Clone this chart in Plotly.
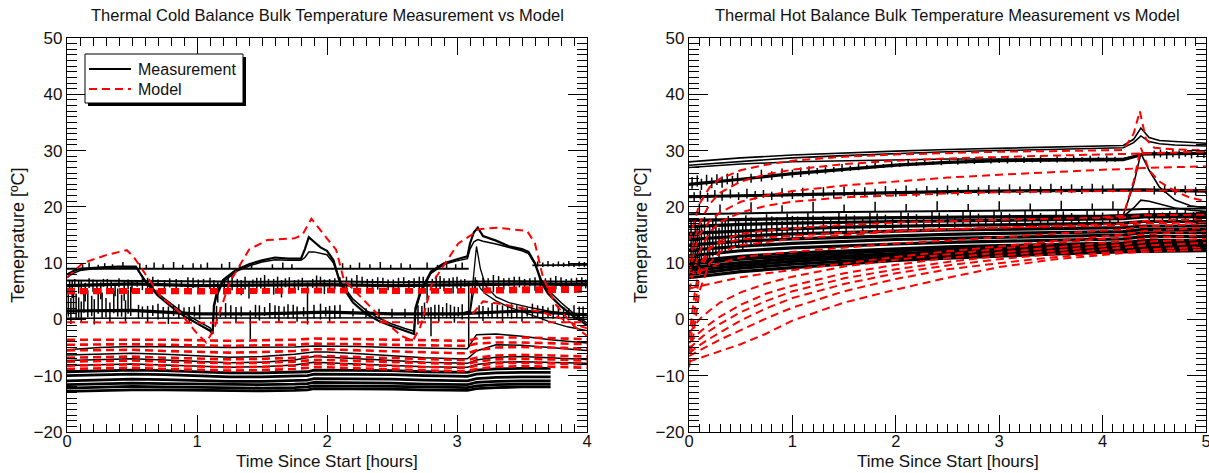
import plotly.graph_objects as go

# ---------------------------------------------------------------- cold case
# heater-driven sensors (two nearly identical channels)
COLD_T_HEAT = [0.0, 0.05, 0.1, 0.2, 0.3, 0.4, 0.5, 0.53, 0.6, 0.7, 0.8, 0.9, 1.0, 1.1, 1.12, 1.13,
               1.15, 1.2, 1.3, 1.4, 1.5, 1.6, 1.7, 1.8, 1.83, 1.86, 1.9, 1.95, 2.0, 2.05, 2.1, 2.2,
               2.3, 2.4, 2.5, 2.6, 2.67, 2.68, 2.72, 2.8, 2.9, 3.0, 3.08, 3.1, 3.13, 3.16, 3.2,
               3.3, 3.4, 3.5, 3.55, 3.6, 3.65, 3.7, 3.8, 3.9, 4.0]
cold_heater_a = [8.0, 8.6, 9.0, 9.2, 9.3, 9.4, 9.5, 9.4, 6.8, 4.2, 2.3, 0.6, -0.7, -2.0, -2.6, 2.5,
                 4.5, 7.0, 8.8, 9.8, 10.5, 11.0, 10.8, 10.8, 12.5, 14.6, 13.8, 12.8, 12.2, 10.5, 6.5,
                 3.0, 1.0, -0.3, -1.2, -2.0, -2.6, 2.0, 5.0, 8.5, 10.0, 10.7, 11.2, 13.5, 15.5,
                 16.3, 14.8, 14.0, 13.0, 12.5, 12.0, 10.0, 6.5, 4.6, 2.3, 0.5, -1.0]
cold_heater_b = [7.5, 8.2, 8.7, 9.0, 9.1, 9.2, 9.3, 9.2, 7.0, 4.6, 2.8, 1.1, -0.2, -1.5, -2.1, 2.0,
                 4.0, 6.6, 8.5, 9.5, 10.2, 10.6, 10.5, 10.5, 11.0, 12.0, 12.0, 11.7, 11.5, 10.0, 6.8,
                 3.6, 1.6, 0.2, -0.8, -1.6, -2.1, 1.5, 4.6, 8.2, 9.8, 10.4, 10.8, 12.5, 13.8, 14.2,
                 13.9, 13.4, 12.8, 12.2, 11.7, 9.8, 7.0, 5.2, 3.0, 1.0, -0.6]

# short transient channels in the third cycle
COLD_T_SPIKE = [3.05, 3.1, 3.12, 3.15, 3.18, 3.22, 3.3, 3.4, 3.55, 3.7, 3.85, 4.0]
cold_spike_a = [1.2, 1.5, 6.0, 13.0, 9.0, 6.0, 4.0, 3.0, 2.2, 1.5, 1.0, 0.8]
cold_spike_b = [0.8, 1.0, 4.0, 7.0, 5.5, 4.5, 3.3, 2.2, 1.0, -0.3, -1.3, -2.0]

# noisy, nearly constant channels
COLD_T_FLAT = [0.0, 0.5, 1.0, 1.5, 2.0, 2.5, 3.0, 3.5, 4.0]
cold_flat9_t = [0.0, 3.09, None, 3.58, 4.0]
cold_flat9_v = [9.0, 9.0, None, 9.6, 9.7]
cold_band6_lo = [6.0, 6.3, 6.0, 6.1, 6.2, 6.0, 6.1, 6.3, 6.2]
cold_band6_hi = [6.9, 6.8, 6.7, 6.7, 6.8, 6.6, 6.7, 6.8, 6.7]
cold_band1 = [1.5, 1.6, 1.0, 1.0, 1.3, 1.0, 1.0, 1.5, 0.8]
cold_zero = [0.2, 0.2, 0.2, 0.3, 0.3, 0.3, 0.3, 0.3, 0.3]

COLD_N9_SPIKES = [(0.12, 9.0, 9.8), (0.17, 9.0, 10.1), (0.24, 9.0, 9.7), (0.29, 9.0, 10.0), (0.35, 9.0, 9.8),
                  (0.43, 9.0, 10.2), (0.56, 9.0, 10.0), (0.61, 9.0, 9.7), (0.67, 9.0, 10.1), (0.74, 9.0, 9.8),
                  (0.82, 9.0, 10.2), (0.89, 9.0, 9.7), (0.97, 9.0, 10.0), (1.03, 9.0, 9.8), (1.08, 9.0, 10.1),
                  (1.19, 9.0, 9.9), (1.25, 9.0, 10.2), (1.33, 9.0, 9.7), (1.42, 9.0, 10.0), (1.58, 9.0, 9.8),
                  (1.66, 9.0, 10.1), (1.73, 9.0, 9.8), (2.12, 9.0, 10.0), (2.18, 9.0, 9.7), (2.25, 9.0, 10.1),
                  (2.33, 9.0, 9.8), (2.41, 9.0, 10.2), (2.49, 9.0, 9.7), (2.57, 9.0, 10.0), (2.64, 9.0, 9.8),
                  (2.77, 9.0, 10.1), (2.85, 9.0, 9.7), (2.92, 9.0, 10.0), (2.99, 9.0, 9.8), (3.04, 9.0, 10.1),
                  (3.62, 9.4, 10.3), (3.66, 9.3, 10.1), (3.7, 9.4, 10.4), (3.74, 9.3, 10.0), (3.78, 9.4, 10.3),
                  (3.82, 9.3, 10.1), (3.86, 9.4, 10.4), (3.9, 9.3, 10.0), (3.94, 9.4, 10.3), (3.98, 9.3, 10.2)]
COLD_N6_SPIKES = [(0.04, 3.8, 7.0), (0.09, 4.6, 6.9), (0.14, 3.2, 6.5), (0.2, 4.9, 7.1), (0.26, 3.6, 6.6),
                  (0.31, 5.0, 7.2), (0.37, 4.1, 6.5), (0.44, 3.3, 6.8), (0.5, 4.8, 7.0), (0.58, 5.2, 7.3),
                  (0.66, 5.4, 7.6), (0.75, 5.1, 7.0), (0.84, 5.5, 7.2), (0.93, 5.3, 7.5), (1.01, 5.0, 7.1),
                  (1.1, 5.4, 7.4), (1.16, 3.0, 6.6), (1.21, 4.4, 7.3), (1.27, 5.2, 7.8), (1.34, 4.3, 7.0),
                  (1.4, 3.7, 6.8), (1.46, 4.8, 7.4), (1.52, 5.1, 7.9), (1.59, 4.4, 7.2), (1.65, 3.9, 7.0),
                  (1.71, 4.6, 7.5), (1.78, 5.2, 7.1), (1.85, -0.9, 6.6), (1.92, 5.0, 7.8), (1.98, 4.5, 7.1),
                  (2.06, 5.3, 7.3), (2.15, 5.1, 7.6), (2.23, 5.4, 7.9), (2.31, 5.0, 7.2), (2.39, 5.3, 7.5),
                  (2.47, 5.2, 7.1), (2.55, 5.4, 7.4), (2.63, 4.9, 7.0), (2.71, 4.2, 7.6), (2.77, 3.4, 7.2),
                  (2.84, 4.7, 7.8), (2.9, 5.0, 7.3), (2.97, 4.6, 7.5), (3.03, 5.2, 7.1), (3.09, -5.0, 6.8),
                  (3.2, 5.2, 7.4), (3.28, 4.8, 7.9), (3.36, 5.3, 7.3), (3.44, 5.0, 7.6), (3.52, 5.4, 7.2),
                  (3.6, 5.1, 7.5), (3.68, 5.5, 7.3), (3.76, 5.3, 7.7), (3.84, 5.6, 7.2), (3.92, 5.4, 7.4),
                  (3.99, 5.5, 7.1)]
COLD_N6_EXTRA = [(0.02, 5.4, 7.0), (0.06, 5.7, 7.2), (0.11, 5.2, 6.9), (0.17, 5.6, 7.3), (0.23, 5.3, 7.0),
                 (0.28, 5.8, 7.2), (0.34, 5.5, 6.9), (0.4, 5.7, 7.3), (0.47, 5.4, 7.1), (0.54, 5.8, 7.0),
                 (0.62, 5.6, 7.4), (0.7, 5.9, 7.1), (0.79, 5.7, 7.3), (0.88, 5.8, 7.0), (0.97, 5.6, 7.4),
                 (1.05, 5.9, 7.2), (1.13, 5.5, 7.0), (1.24, 5.8, 7.5), (1.31, 5.6, 7.2), (1.37, 5.3, 7.6),
                 (1.43, 5.7, 7.1), (1.49, 5.5, 7.4), (1.55, 5.8, 7.2), (1.62, 5.4, 7.6), (1.68, 5.7, 7.3),
                 (1.75, 5.5, 7.0), (1.81, 5.8, 7.4), (1.89, 5.6, 7.2), (1.95, 5.9, 7.6), (2.02, 5.6, 7.2),
                 (2.1, 5.8, 7.5), (2.19, 5.5, 7.3), (2.27, 5.9, 7.6), (2.35, 5.6, 7.2), (2.43, 5.8, 7.4),
                 (2.51, 5.5, 7.1), (2.59, 5.9, 7.5), (2.67, 5.6, 7.3), (2.74, 5.3, 7.6), (2.81, 5.7, 7.2),
                 (2.87, 5.4, 7.7), (2.94, 5.8, 7.3), (3.0, 5.5, 7.6), (3.06, 5.8, 7.2), (3.14, 5.6, 7.5),
                 (3.24, 5.9, 7.3), (3.32, 5.6, 7.7), (3.4, 5.9, 7.4), (3.48, 5.7, 7.6), (3.56, 5.9, 7.3),
                 (3.64, 5.7, 7.6), (3.72, 6.0, 7.4), (3.8, 5.8, 7.5), (3.88, 6.0, 7.3), (3.96, 5.8, 7.5)]
COLD_N1_SPIKES = [(0.03, -0.8, 3.8), (0.07, 0.2, 4.6), (0.11, -0.5, 3.2), (0.16, 0.4, 5.2), (0.21, -0.9, 3.6),
                  (0.27, 0.3, 4.8), (0.33, -0.6, 3.0), (0.39, 0.5, 5.5), (0.45, -0.4, 3.4), (0.49, 0.6, 5.8),
                  (0.55, 0.1, 2.6), (0.62, -0.6, 2.4), (0.7, 0.0, 2.8), (0.78, -0.8, 2.3), (0.86, 0.2, 2.7),
                  (0.94, -0.5, 2.2), (1.02, 0.0, 2.6), (1.15, -0.3, 2.4), (1.22, 0.3, 2.9), (1.3, -0.7, 2.2),
                  (1.41, -3.5, 1.6), (1.48, -0.2, 2.5), (1.56, 0.2, 2.9), (1.63, -0.6, 2.4), (1.7, 0.1, 2.7),
                  (1.77, -0.4, 2.3), (1.95, 0.0, 2.8), (2.02, -0.5, 2.4), (2.1, 0.2, 2.6), (2.3, 0.4, 2.0),
                  (2.5, 0.3, 1.9), (2.7, -0.9, 2.5), (2.75, 0.0, 3.0), (2.8, -3.0, 2.2), (2.86, -0.4, 2.6),
                  (2.92, 0.2, 2.9), (2.98, -0.6, 2.3), (3.04, 0.0, 2.7), (3.2, -0.3, 2.4), (3.27, 0.2, 2.9),
                  (3.35, -0.5, 2.5), (3.42, 0.1, 2.7), (3.5, -0.4, 2.3), (3.58, 0.2, 2.8), (3.66, -0.2, 2.4),
                  (3.74, 0.1, 2.6), (3.82, -0.4, 2.2), (3.9, 0.0, 2.5), (3.97, -0.3, 2.3)]
COLD_N1_EXTRA = [(0.01, 0.5, 4.5), (0.05, 1.0, 5.5), (0.09, 0.3, 3.9), (0.13, 1.2, 5.0), (0.19, 0.6, 4.2),
                 (0.24, 1.0, 5.6), (0.3, 0.4, 3.8), (0.36, 1.1, 5.1), (0.42, 0.5, 4.4), (0.47, 1.0, 5.3),
                 (0.58, 0.4, 2.3), (0.66, 0.6, 2.5), (0.74, 0.3, 2.2), (0.82, 0.6, 2.4), (0.9, 0.3, 2.1),
                 (0.98, 0.5, 2.3), (1.18, 0.4, 2.2), (1.26, 0.2, 2.5), (1.34, 0.5, 2.3), (1.45, 0.3, 2.6),
                 (1.52, 0.6, 2.2), (1.6, 0.2, 2.5), (1.67, 0.5, 2.3), (1.74, 0.2, 2.6), (1.82, 0.5, 2.2),
                 (1.9, 0.2, 2.6), (1.99, 0.5, 2.2), (2.06, 0.1, 2.5), (2.2, 0.5, 1.9), (2.4, 0.4, 1.9),
                 (2.6, 0.4, 1.9), (2.73, 0.2, 2.4), (2.78, 0.5, 2.1), (2.83, 0.1, 2.6), (2.89, 0.5, 2.2),
                 (2.95, 0.2, 2.6), (3.01, 0.5, 2.2), (3.17, 0.3, 2.5), (3.24, 0.5, 2.1), (3.31, 0.2, 2.6),
                 (3.39, 0.5, 2.2), (3.46, 0.2, 2.5), (3.54, 0.5, 2.1), (3.62, 0.2, 2.5), (3.7, 0.4, 2.1),
                 (3.78, 0.1, 2.4), (3.86, 0.4, 2.0), (3.94, 0.1, 2.3)]

# slowly varying structure sensors
COLD_T_LOW = [0.0, 0.25, 0.5, 0.75, 1.0, 1.25, 1.5, 1.75, 1.9, 2.0, 2.25, 2.5, 2.75, 3.0, 3.08,
              3.15, 3.3, 3.5, 3.72, 4.0]
cold_low_1 = [-5.4, -5.0, -4.8, -4.8, -4.9, -5.0, -5.0, -4.9, -4.7, -4.7, -4.8, -5.0, -5.1, -5.2, -5.2,
              -2.7, -2.6, -3.0, -3.6, -4.2]
cold_low_2 = [-6.3, -6.1, -6.0, -6.2, -6.5, -6.7, -6.6, -6.2, -5.8, -5.8, -6.1, -6.5, -6.8, -7.0, -7.0,
              -5.6, -4.5, -4.6, -5.0, -5.5]
cold_low_3 = [-7.3, -7.1, -7.0, -7.2, -7.5, -7.7, -7.6, -7.2, -6.6, -6.7, -7.0, -7.3, -7.6, -7.8, -7.8,
              -7.2, -6.7, -6.6, -6.8, -7.1]
cold_low_4 = [-8.2, -8.0, -7.9, -8.1, -8.3, -8.5, -8.4, -8.1, -7.6, -7.7, -7.9, -8.2, -8.4, -8.5, -8.5,
              -8.0, -7.6, -7.5, -7.6, -7.8]

COLD_T_BOT = [0.0, 0.25, 0.5, 0.75, 1.0, 1.25, 1.5, 1.75, 1.85, 1.9, 2.25, 2.5, 2.75, 3.0, 3.08,
              3.15, 3.3, 3.5, 3.72]
cold_bot = [
    [-9.3, -9.1, -9.0, -9.1, -9.3, -9.5, -9.5, -9.4, -9.3, -9.0, -9.0, -9.1, -9.3, -9.4, -9.4, -9.0, -8.8, -8.7, -8.7],
    [-10.0, -9.8, -9.7, -9.8, -10.0, -10.2, -10.2, -10.1, -10.0, -9.7, -9.7, -9.8, -10.0, -10.1, -10.1, -9.7, -9.5, -9.4, -9.4],
    [-10.9, -10.7, -10.6, -10.7, -10.9, -11.0, -11.0, -10.9, -10.8, -10.5, -10.5, -10.6, -10.8, -10.9, -10.9, -10.5, -10.3, -10.2, -10.2],
    [-11.6, -11.4, -11.3, -11.4, -11.5, -11.6, -11.6, -11.5, -11.4, -11.2, -11.2, -11.3, -11.5, -11.6, -11.6, -11.2, -11.0, -10.9, -10.9],
    [-12.2, -12.0, -11.9, -12.0, -12.1, -12.2, -12.2, -12.1, -12.0, -11.8, -11.8, -11.9, -12.0, -12.1, -12.1, -11.8, -11.6, -11.5, -11.5],
    [-12.8, -12.6, -12.5, -12.5, -12.6, -12.7, -12.7, -12.6, -12.5, -12.3, -12.3, -12.4, -12.5, -12.6, -12.6, -12.3, -12.1, -12.0, -12.0],
]

# cold case model predictions
COLD_T_MHEAT = [0.0, 0.12, 0.31, 0.46, 0.51, 0.6, 0.72, 0.87, 1.0, 1.07, 1.13, 1.25, 1.4, 1.54, 1.75,
                1.81, 1.88, 2.01, 2.07, 2.13, 2.28, 2.43, 2.57, 2.66, 2.72, 2.81, 3.01, 3.13, 3.16,
                3.31, 3.54, 3.6, 3.66, 3.75, 3.9, 4.0]
cold_model_heater = [7.4, 10.0, 11.5, 12.3, 11.2, 8.2, 4.1, 1.2, -2.5, -4.1, -1.8, 6.5, 12.4, 14.1, 14.4,
                     15.0, 17.9, 14.1, 12.4, 7.0, 3.5, 0.0, -2.9, -3.8, -1.2, 6.5, 13.5, 15.3, 16.0,
                     16.3, 15.7, 13.5, 7.6, 2.9, -1.2, -2.9]
COLD_T_MSPIKE = [3.12, 3.2, 3.35, 3.5, 3.65, 3.8, 3.9, 4.0]
cold_model_spike = [1.0, 3.2, 2.7, 2.0, 1.3, 0.2, -0.8, -1.6]
cold_model_band5 = [
    [4.7, 4.8, 4.7, 4.8, 4.9, 4.8, 4.8, 4.9, 5.0],
    [5.0, 5.1, 5.0, 5.1, 5.2, 5.1, 5.1, 5.3, 5.4],
    [5.3, 5.3, 5.2, 5.3, 5.4, 5.3, 5.3, 5.6, 5.7],
]
cold_model_zero = [-0.5, -0.6, -0.6, -0.5, -0.5, -0.6, -0.6, -0.5, -0.5]
cold_model_low = [
    [-3.6, -3.6, -3.5, -3.6, -3.7, -3.8, -3.7, -3.6, -3.4, -3.4, -3.5, -3.6, -3.7, -3.8, -3.8, -3.4, -3.2, -3.2, -3.3, -3.5],
    [-4.5, -4.4, -4.4, -4.5, -4.6, -4.7, -4.6, -4.5, -4.3, -4.3, -4.4, -4.5, -4.6, -4.7, -4.7, -4.3, -4.1, -4.1, -4.2, -4.4],
    [-5.5, -5.4, -5.4, -5.6, -5.8, -5.9, -5.8, -5.6, -5.3, -5.3, -5.5, -5.7, -5.9, -6.0, -6.0, -5.5, -5.0, -4.9, -5.0, -5.2],
    [-6.8, -6.7, -6.6, -6.8, -7.0, -7.1, -7.0, -6.8, -6.5, -6.5, -6.7, -6.9, -7.1, -7.2, -7.2, -6.8, -6.4, -6.3, -6.4, -6.6],
    [-7.5, -7.4, -7.3, -7.5, -7.7, -7.8, -7.7, -7.5, -7.2, -7.2, -7.4, -7.6, -7.8, -7.9, -7.9, -7.5, -7.1, -7.0, -7.1, -7.3],
    [-8.2, -8.1, -8.0, -8.2, -8.4, -8.5, -8.4, -8.2, -7.9, -7.9, -8.1, -8.3, -8.5, -8.6, -8.6, -8.2, -7.8, -7.7, -7.8, -8.0],
    [-8.8, -8.7, -8.6, -8.8, -9.0, -9.1, -9.0, -8.8, -8.5, -8.5, -8.7, -8.9, -9.1, -9.2, -9.2, -8.8, -8.4, -8.3, -8.4, -8.6],
]

# ---------------------------------------------------------------- hot case
HOT_T_TOP = [0.0, 0.5, 1.0, 1.5, 2.0, 2.5, 3.0, 3.5, 4.0, 4.2, 4.3, 4.37, 4.45, 4.55, 4.7, 5.0]
hot_top_1 = [28.0, 28.7, 29.2, 29.6, 29.9, 30.2, 30.4, 30.6, 30.8, 30.9, 32.0, 34.0, 32.3, 31.8, 31.6, 31.3]
hot_top_2 = [27.4, 28.1, 28.7, 29.1, 29.5, 29.8, 30.0, 30.2, 30.4, 30.5, 31.4, 32.6, 31.6, 31.2, 31.0, 30.8]

HOT_T = [0.0, 0.25, 0.5, 1.0, 1.5, 2.0, 2.5, 3.0, 3.5, 4.0, 4.2, 4.4, 5.0]
hot_mid_28 = [27.0, 27.3, 27.6, 28.0, 28.2, 28.4, 28.5, 28.5, 28.6, 28.6, 28.6, 29.3, 29.4]
hot_band_24 = [24.0, 24.4, 24.9, 25.9, 26.7, 27.4, 27.9, 28.2, 28.3, 28.4, 28.4, 29.4, 29.5]
hot_band_22 = [21.8, 21.9, 22.0, 22.2, 22.4, 22.5, 22.7, 22.8, 22.9, 23.0, 23.0, 23.0, 22.8]
hot_band_19 = [18.7, 18.8, 18.9, 19.0, 19.1, 19.2, 19.3, 19.4, 19.5, 19.5, 19.5, 19.6, 19.7]
hot_bundle = [
    [7.4, 8.0, 8.5, 9.2, 9.9, 10.5, 10.9, 11.3, 11.6, 11.9, 12.0, 12.1, 12.2],
    [8.0, 8.6, 9.1, 9.8, 10.4, 10.9, 11.3, 11.6, 11.9, 12.2, 12.3, 12.5, 12.6],
    [8.6, 9.1, 9.6, 10.3, 10.9, 11.3, 11.7, 12.0, 12.2, 12.4, 12.5, 12.9, 12.9],
    [9.2, 9.7, 10.1, 10.8, 11.3, 11.7, 12.0, 12.3, 12.5, 12.7, 12.8, 13.2, 13.2],
    [9.8, 10.3, 10.7, 11.3, 11.8, 12.2, 12.5, 12.7, 12.9, 13.1, 13.2, 13.6, 13.6],
    [10.3, 10.8, 11.2, 11.8, 12.2, 12.6, 12.9, 13.1, 13.3, 13.5, 13.6, 14.0, 14.0],
    [11.3, 11.8, 12.2, 12.7, 13.1, 13.4, 13.7, 13.9, 14.1, 14.2, 14.3, 14.7, 14.7],
    [12.3, 12.7, 13.0, 13.5, 13.9, 14.2, 14.4, 14.6, 14.8, 14.9, 15.0, 15.4, 15.4],
    [13.2, 13.6, 13.9, 14.3, 14.6, 14.9, 15.1, 15.3, 15.4, 15.5, 15.6, 16.0, 16.0],
    [14.2, 14.5, 14.8, 15.2, 15.5, 15.7, 15.9, 16.0, 16.1, 16.2, 16.3, 16.6, 16.6],
    [15.3, 15.5, 15.8, 16.1, 16.4, 16.6, 16.7, 16.8, 16.9, 17.0, 17.1, 17.4, 17.4],
    [16.5, 16.7, 16.9, 17.1, 17.3, 17.4, 17.5, 17.6, 17.7, 17.8, 17.9, 18.2, 18.2],
    [17.6, 17.7, 17.8, 17.9, 18.0, 18.1, 18.2, 18.2, 18.3, 18.3, 18.4, 18.6, 18.7],
]
HOT_T_PK = [4.0, 4.2, 4.3, 4.37, 4.45, 4.55, 4.7, 4.85, 5.0]
hot_peak_a = [18.4, 18.5, 24.0, 29.5, 26.5, 23.5, 21.2, 20.2, 19.8]
hot_peak_b = [18.2, 18.3, 19.8, 21.2, 21.0, 20.5, 19.8, 19.4, 19.2]

HOT_N24_SPIKES = [(0.03, 23.2, 25.3), (0.08, 23.6, 25.6), (0.12, 23.0, 25.0), (0.17, 23.8, 25.7), (0.22, 23.3, 25.2),
                  (0.27, 23.9, 25.8), (0.32, 23.4, 25.4), (0.37, 24.0, 25.9), (0.42, 23.6, 25.5), (0.47, 24.1, 26.0),
                  (0.6, 24.3, 25.9), (0.7, 24.5, 26.6), (0.8, 24.8, 26.3), (0.9, 25.0, 26.8), (1.0, 25.2, 26.6),
                  (1.08, 25.3, 27.0), (1.16, 25.6, 27.2), (1.24, 25.8, 26.9), (1.32, 25.9, 27.4), (1.4, 26.1, 27.1),
                  (1.48, 26.2, 27.6), (1.56, 26.4, 27.3), (1.64, 26.5, 27.8), (1.72, 26.7, 27.5), (1.8, 26.8, 27.9),
                  (1.88, 26.9, 27.6), (1.96, 27.0, 28.1), (2.04, 27.1, 27.8), (2.12, 27.2, 28.3), (2.2, 27.3, 28.0),
                  (2.28, 27.4, 28.4), (2.36, 27.5, 28.1), (2.44, 27.4, 28.5), (2.52, 27.6, 28.3), (2.6, 27.5, 28.6),
                  (2.68, 27.7, 28.4), (2.76, 27.6, 28.7), (2.84, 27.8, 28.5), (2.92, 27.7, 28.8), (3.0, 27.8, 28.6),
                  (3.08, 27.7, 28.9), (3.16, 27.9, 28.6), (3.24, 27.8, 28.9), (3.32, 27.9, 28.7), (3.4, 27.8, 29.0),
                  (3.48, 28.0, 28.7), (3.56, 27.9, 29.0), (3.64, 28.0, 28.8), (3.72, 27.9, 29.1), (3.8, 28.0, 28.8),
                  (3.88, 27.9, 29.1), (3.96, 28.1, 28.9), (4.04, 27.9, 29.1), (4.12, 28.0, 28.9), (4.5, 28.6, 30.0),
                  (4.56, 28.8, 30.2), (4.62, 28.5, 29.9), (4.68, 28.8, 30.3), (4.74, 28.6, 30.0), (4.8, 28.9, 30.2),
                  (4.86, 28.6, 29.9), (4.92, 28.8, 30.3), (4.98, 28.7, 30.1)]
HOT_N22_SPIKES = [(0.05, 21.0, 22.6), (0.11, 21.3, 22.9), (0.18, 20.9, 22.5), (0.25, 21.4, 23.0), (0.32, 21.1, 22.7),
                  (0.4, 21.5, 23.1), (0.48, 21.2, 22.6), (0.56, 21.5, 23.2), (0.64, 21.3, 22.8), (0.72, 21.6, 23.0),
                  (0.8, 21.2, 22.7), (0.9, 21.6, 23.3), (1.0, 21.4, 22.9), (1.1, 21.7, 23.4), (1.2, 21.5, 23.0),
                  (1.3, 21.8, 23.5), (1.4, 21.5, 23.0), (1.5, 21.9, 23.6), (1.6, 21.6, 23.1), (1.7, 21.9, 23.5),
                  (1.8, 21.7, 23.2), (1.9, 22.0, 23.7), (2.0, 21.8, 23.2), (2.1, 22.1, 23.8), (2.2, 21.8, 23.3),
                  (2.3, 22.1, 23.7), (2.4, 21.9, 23.4), (2.5, 22.2, 23.8), (2.6, 22.0, 23.4), (2.7, 22.3, 23.9),
                  (2.8, 22.0, 23.5), (2.9, 22.3, 23.9), (3.0, 22.1, 23.5), (3.1, 22.4, 24.0), (3.2, 22.1, 23.6),
                  (3.3, 22.4, 24.0), (3.4, 22.2, 23.6), (3.5, 22.5, 24.1), (3.6, 22.2, 23.7), (3.7, 22.5, 24.0),
                  (3.8, 22.3, 23.7), (3.9, 22.6, 24.1), (4.0, 22.3, 23.8), (4.1, 22.6, 24.0), (4.5, 22.2, 23.7),
                  (4.6, 22.5, 23.9), (4.7, 22.1, 23.6), (4.8, 22.4, 23.8), (4.9, 22.0, 23.5), (5.0, 22.3, 23.7)]
HOT_N19_SPIKES = [(0.1, 18.8, 20.6), (0.3, 18.9, 20.4), (0.6, 19.0, 20.8), (0.9, 19.0, 20.3), (1.2, 19.1, 20.9),
                  (1.5, 19.1, 20.4), (1.8, 19.2, 20.9), (2.1, 19.2, 20.5), (2.4, 19.3, 21.0), (2.7, 19.3, 20.5),
                  (3.0, 19.4, 21.0), (3.3, 19.4, 20.6), (3.6, 19.5, 21.1), (3.9, 19.5, 20.6), (4.1, 19.5, 21.0)]
HOT_BUNDLE_SPIKES = [(0.02, 9.0, 17.5), (0.06, 10.5, 18.0), (0.1, 9.5, 16.8), (0.15, 11.0, 18.2), (0.2, 10.2, 17.0),
                     (0.26, 11.5, 18.3), (0.32, 12.0, 17.6), (0.38, 12.5, 18.4), (0.45, 13.0, 17.8), (0.55, 13.5, 18.5),
                     (0.65, 14.0, 18.0), (0.75, 14.5, 18.7), (0.85, 14.8, 18.2), (0.95, 15.0, 18.8), (1.05, 15.2, 18.3),
                     (1.15, 15.4, 18.9), (1.3, 15.6, 18.4), (1.45, 15.8, 19.0), (1.6, 16.0, 18.5), (1.75, 16.1, 19.0),
                     (1.9, 16.2, 18.6), (2.05, 16.3, 19.1), (2.2, 16.4, 18.7), (2.35, 16.5, 19.1), (2.5, 16.6, 18.7),
                     (2.65, 16.6, 19.2), (2.8, 16.7, 18.8), (2.95, 16.7, 19.2), (3.1, 16.8, 18.8), (3.25, 16.8, 19.3),
                     (3.4, 16.9, 18.9), (3.55, 16.9, 19.3), (3.7, 17.0, 18.9), (3.85, 17.0, 19.3), (4.0, 17.0, 19.0),
                     (4.15, 17.1, 19.3), (4.5, 17.3, 19.5), (4.65, 17.4, 19.2), (4.8, 17.4, 19.6), (4.95, 17.5, 19.3)]
HOT_BUNDLE_EXTRA = [(0.04, 8.5, 15.5), (0.08, 9.8, 16.5), (0.12, 10.5, 17.2), (0.18, 9.6, 15.8), (0.23, 11.2, 17.6),
                    (0.29, 10.8, 16.3), (0.35, 11.8, 17.9), (0.41, 12.1, 16.8), (0.48, 12.6, 18.0), (0.52, 12.2, 16.9),
                    (0.6, 13.0, 18.1), (0.7, 13.2, 17.2), (0.8, 13.8, 18.3), (0.9, 14.0, 17.5), (1.0, 14.4, 18.4),
                    (1.1, 14.6, 17.6), (1.2, 14.9, 18.5), (1.37, 15.1, 17.8), (1.52, 15.3, 18.7), (1.68, 15.5, 18.0),
                    (1.82, 15.7, 18.8), (1.97, 15.8, 18.1), (2.12, 16.0, 18.9), (2.27, 16.1, 18.2), (2.42, 16.2, 19.0),
                    (2.57, 16.3, 18.3), (2.72, 16.4, 19.1), (2.87, 16.5, 18.4), (3.02, 16.5, 19.1), (3.17, 16.6, 18.4),
                    (3.32, 16.6, 19.2), (3.47, 16.7, 18.5), (3.62, 16.7, 19.2), (3.77, 16.8, 18.5), (3.92, 16.8, 19.2),
                    (4.07, 16.9, 18.6), (4.45, 17.1, 19.4), (4.58, 17.2, 19.0), (4.72, 17.3, 19.5), (4.88, 17.3, 19.1)]

# hot case model predictions
HOT_TM = [0.0, 0.05, 0.1, 0.2, 0.3, 0.5, 0.75, 1.0, 1.5, 2.0, 2.5, 3.0, 3.5, 4.0, 4.2, 4.4, 5.0]
hot_model = [
    [-7.5, -7.2, -6.8, -6.3, -5.7, -4.4, -2.5, -0.2, 3.0, 5.3, 7.4, 9.3, 10.6, 11.5, 11.8, 12.0, 12.4],
    [-6.5, -6.0, -5.5, -4.6, -3.6, -1.9, 0.2, 2.1, 5.0, 7.2, 8.9, 10.0, 11.0, 11.8, 12.1, 12.4, 12.9],
    [-6.0, -5.3, -4.6, -3.4, -2.3, -0.2, 2.0, 3.8, 6.3, 8.2, 9.6, 10.7, 11.6, 12.4, 12.7, 13.1, 13.6],
    [-5.2, -4.3, -3.5, -2.0, -0.8, 1.3, 3.3, 5.0, 7.3, 8.9, 10.2, 11.3, 12.2, 13.0, 13.3, 13.8, 14.3],
    [-4.2, -3.2, -2.3, -0.8, 0.5, 2.6, 4.6, 6.0, 8.2, 9.7, 10.9, 11.9, 12.8, 13.6, 13.9, 14.4, 15.0],
    [-2.5, -1.2, 0.0, 1.6, 3.0, 4.8, 6.4, 7.6, 9.4, 10.6, 11.6, 12.6, 13.5, 14.3, 14.6, 15.1, 15.7],
    [5.5, 5.7, 6.0, 6.4, 6.8, 7.5, 8.2, 8.8, 10.0, 11.1, 12.1, 13.0, 13.9, 14.8, 15.1, 15.7, 16.3],
    [7.5, 8.0, 8.5, 9.2, 10.0, 11.0, 11.6, 12.0, 12.8, 13.5, 14.0, 14.6, 15.2, 15.8, 16.0, 16.5, 17.0],
    [-8.5, -2.0, 5.0, 10.0, 12.0, 13.2, 13.8, 14.3, 15.0, 15.6, 16.0, 16.3, 16.6, 16.9, 17.0, 17.5, 17.8],
    [-6.0, 1.0, 8.0, 12.5, 14.0, 15.2, 15.8, 16.2, 16.8, 17.2, 17.5, 17.7, 17.9, 18.0, 18.1, 18.5, 18.6],
    [-3.5, 4.0, 9.5, 12.8, 13.6, 14.2, 14.6, 14.9, 15.4, 15.8, 16.1, 16.3, 16.5, 16.6, 16.7, 17.1, 17.2],
    [5.0, 9.0, 12.0, 15.5, 17.3, 19.0, 20.2, 20.9, 21.7, 22.1, 22.4, 22.6, 22.7, 22.8, 22.8, 22.9, 23.0],
    [8.0, 12.0, 15.0, 17.5, 19.0, 20.9, 22.0, 22.8, 23.8, 24.5, 25.2, 25.7, 26.2, 26.6, 26.7, 26.9, 27.2],
    [10.0, 14.0, 17.0, 20.5, 22.5, 24.5, 25.8, 26.6, 27.6, 28.2, 28.6, 28.9, 29.1, 29.3, 29.4, 29.6, 29.8],
]
HOT_TM_PK = [0.0, 0.05, 0.1, 0.2, 0.3, 0.5, 0.75, 1.0, 1.5, 2.0, 2.5, 3.0, 3.5, 4.0, 4.2, 4.3, 4.36,
             4.42, 4.5, 4.7, 5.0]
hot_model_top = [14.0, 17.5, 20.5, 23.5, 25.0, 26.5, 27.5, 28.2, 28.9, 29.3, 29.6, 29.8, 29.9, 30.0,
                 30.1, 33.0, 37.0, 32.0, 30.5, 30.2, 30.0]
hot_model_peak = [18.2, 18.4, 24.5, 30.5, 26.5, 24.5, 22.8, 21.6, 21.0]

TITLES = ["Thermal Cold Balance Bulk Temperature Measurement vs Model",
          "Thermal Hot Balance Bulk Temperature Measurement vs Model"]
X_TITLE = "Time Since Start [hours]"
Y_TITLE = "Temeprature [ºC]"
LEGEND_LABELS = ["Measurement", "Model"]

# ---------------------------------------------------------------- drawing
RED = "#ff0000"
DASH = "8px,5px"
fig = go.Figure()


def spike_xy(spikes):
    xs, ys = [], []
    for t, lo, hi in spikes:
        xs += [t, t, None]
        ys += [lo, hi, None]
    return xs, ys


def meas(x, y, axes, width=1.5):
    fig.add_trace(go.Scatter(x=x, y=y, mode="lines", name="Measurement", showlegend=False,
                             line=dict(color="black", width=width), xaxis=axes[0], yaxis=axes[1],
                             hoverinfo="skip", connectgaps=False))


def model(x, y, axes, width=2.0):
    fig.add_trace(go.Scatter(x=x, y=y, mode="lines", name="Model", showlegend=False,
                             line=dict(color=RED, width=width, dash=DASH), xaxis=axes[0],
                             yaxis=axes[1], hoverinfo="skip"))


L = ("x", "y")
R = ("x2", "y2")

# cold measurements
meas(COLD_T_HEAT, cold_heater_a, L, 2.2)
meas(COLD_T_HEAT, cold_heater_b, L, 1.5)
meas(cold_flat9_t, cold_flat9_v, L, 1.8)
meas(COLD_T_FLAT, cold_band6_lo, L, 3.2)
meas(COLD_T_FLAT, cold_band6_hi, L, 2.0)
meas(COLD_T_FLAT, cold_band1, L, 3.2)
meas(COLD_T_FLAT, cold_zero, L, 1.5)
for spk in (COLD_N9_SPIKES, COLD_N6_SPIKES, COLD_N6_EXTRA, COLD_N1_SPIKES, COLD_N1_EXTRA):
    sx, sy = spike_xy(spk)
    meas(sx, sy, L, 1.5)
meas(COLD_T_SPIKE, cold_spike_a, L, 1.3)
meas(COLD_T_SPIKE, cold_spike_b, L, 1.3)
for series in (cold_low_1, cold_low_2, cold_low_3, cold_low_4):
    meas(COLD_T_LOW, series, L, 1.5)
for series in cold_bot:
    meas(COLD_T_BOT, series, L, 2.8)

# hot measurements
meas(HOT_T_TOP, hot_top_1, R, 1.6)
meas(HOT_T_TOP, hot_top_2, R, 1.6)
meas(HOT_T, hot_mid_28, R, 1.5)
meas(HOT_T, hot_band_24, R, 3.2)
meas(HOT_T, hot_band_22, R, 3.2)
meas(HOT_T, hot_band_19, R, 2.0)
for series in hot_bundle:
    meas(HOT_T, series, R, 3.2)
for spk in (HOT_N24_SPIKES, HOT_N22_SPIKES, HOT_N19_SPIKES, HOT_BUNDLE_SPIKES, HOT_BUNDLE_EXTRA):
    sx, sy = spike_xy(spk)
    meas(sx, sy, R, 1.5)
meas(HOT_T_PK, hot_peak_a, R, 1.6)
meas(HOT_T_PK, hot_peak_b, R, 1.6)

# cold models
model(COLD_T_MHEAT, cold_model_heater, L, 2.0)
model(COLD_T_MSPIKE, cold_model_spike, L, 2.0)
for series in cold_model_band5:
    model(COLD_T_FLAT, series, L, 3.0)
model(COLD_T_FLAT, cold_model_zero, L, 2.0)
for series in cold_model_low:
    model(COLD_T_LOW, series, L, 2.6)

# hot models
for series in hot_model:
    model(HOT_TM, series, R, 2.0)
model(HOT_TM_PK, hot_model_top, R, 2.0)
model(HOT_T_PK, hot_model_peak, R, 2.0)

# ---------------------------------------------------------------- layout
W, H = 1209, 473
TOP, BOT = 38, 432
LEFT_X = (67, 587)
RIGHT_X = (689, 1206)
FONT = "Liberation Sans, Arial, Helvetica, sans-serif"
INK = "#111111"


def px_x(v):
    return v / W


def px_y(v):
    return 1 - v / H


def xaxis(rng, dom, anchor):
    return dict(domain=dom, range=rng, anchor=anchor, automargin=False, dtick=1, tick0=0,
                ticks="inside", ticklen=17, tickwidth=1.2, tickcolor="black", showline=True,
                linecolor="black", linewidth=1.4, mirror="ticks", showgrid=False, zeroline=False,
                ticklabeloverflow="allow", ticklabelstandoff=-6,
                minor=dict(dtick=0.1, ticks="inside", ticklen=8, tickwidth=1, tickcolor="black"),
                tickfont=dict(family=FONT, size=16.5, color=INK))


def yaxis(anchor):
    return dict(domain=[px_y(BOT), px_y(TOP)], range=[-20, 50], dtick=10, tick0=0, anchor=anchor,
                automargin=False, ticks="inside", ticklen=19, tickwidth=1.2, tickcolor="black",
                showline=True, linecolor="black", linewidth=1.4, mirror="ticks", showgrid=False,
                zeroline=False, ticklabeloverflow="allow",
                minor=dict(dtick=1, ticks="inside", ticklen=10, tickwidth=1, tickcolor="black"),
                tickfont=dict(family=FONT, size=17, color=INK))


# legend box drawn in pixel positions of the left panel
LEG = dict(x0=85, y0=54, x1=243, y1=103, sample=(89, 131), rows=(69, 89), text_x=136)
shapes = [
    dict(type="rect", xref="paper", yref="paper", layer="above",
         x0=px_x(LEG["x0"] + 3), x1=px_x(LEG["x1"] + 3), y0=px_y(LEG["y1"] + 3), y1=px_y(LEG["y0"] + 3),
         fillcolor="black", line=dict(width=0)),
    dict(type="rect", xref="paper", yref="paper", layer="above",
         x0=px_x(LEG["x0"]), x1=px_x(LEG["x1"]), y0=px_y(LEG["y1"]), y1=px_y(LEG["y0"]),
         fillcolor="white", line=dict(color="black", width=1)),
    dict(type="line", xref="paper", yref="paper", layer="above",
         x0=px_x(LEG["sample"][0]), x1=px_x(LEG["sample"][1]), y0=px_y(LEG["rows"][0]), y1=px_y(LEG["rows"][0]),
         line=dict(color="black", width=2)),
    dict(type="line", xref="paper", yref="paper", layer="above",
         x0=px_x(LEG["sample"][0]), x1=px_x(LEG["sample"][1]), y0=px_y(LEG["rows"][1]), y1=px_y(LEG["rows"][1]),
         line=dict(color=RED, width=2, dash=DASH)),
]

annotations = []
for title, span, ytitle_x in zip(TITLES, (LEFT_X, RIGHT_X), (18, 641)):
    cx = px_x(sum(span) / 2)
    annotations.append(dict(text=title, x=cx, y=px_y(15), xref="paper", yref="paper", showarrow=False,
                            font=dict(family=FONT, size=16.5, color=INK), xanchor="center", yanchor="middle"))
    annotations.append(dict(text=X_TITLE, x=cx, y=px_y(473), xref="paper", yref="paper", showarrow=False,
                            font=dict(family=FONT, size=17, color=INK), xanchor="center", yanchor="bottom"))
    annotations.append(dict(text=Y_TITLE, x=px_x(ytitle_x), y=px_y((TOP + BOT) / 2), xref="paper",
                            yref="paper", showarrow=False, textangle=-90,
                            font=dict(family=FONT, size=18, color=INK), xanchor="center", yanchor="middle"))
for label, row in zip(LEGEND_LABELS, LEG["rows"]):
    annotations.append(dict(text=label, x=px_x(LEG["text_x"]), y=px_y(row), xref="paper", yref="paper",
                            showarrow=False, xanchor="left", yanchor="middle",
                            font=dict(family=FONT, size=16, color=INK)))

fig.update_layout(
    width=W, height=H, margin=dict(l=0, r=0, t=0, b=0),
    paper_bgcolor="white", plot_bgcolor="white", showlegend=False,
    xaxis=xaxis([0, 4], [px_x(LEFT_X[0]), px_x(LEFT_X[1])], "y"),
    yaxis=yaxis("x"),
    xaxis2=xaxis([0, 5], [px_x(RIGHT_X[0]), px_x(RIGHT_X[1])], "y2"),
    yaxis2=yaxis("x2"),
    shapes=shapes,
    annotations=annotations,
)

fig.write_html("out.html")
